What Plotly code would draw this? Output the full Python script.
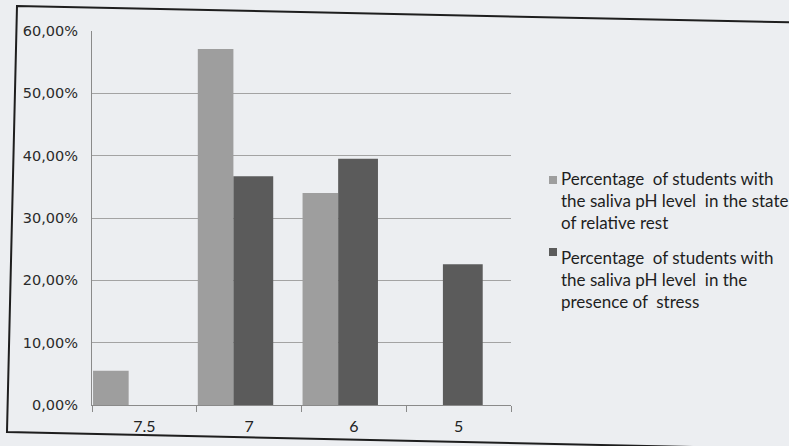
import plotly.graph_objects as go

categories = ["7.5", "7", "6", "5"]
rest_values = [0.055, 0.571, 0.340, None]
stress_values = [None, 0.367, 0.395, 0.226]
y_tick_vals = [0, 0.1, 0.2, 0.3, 0.4, 0.5, 0.6]
y_tick_text = ["0,00%", "10,00%", "20,00%", "30,00%", "40,00%", "50,00%", "60,00%"]
legend_texts = [
    "Percentage  of students with<br>the saliva pH level  in the state<br>of relative rest",
    "Percentage  of students with<br>the saliva pH level  in the<br>presence of  stress",
]
colors = ["#9e9e9e", "#5b5b5b"]

W, H = 789, 446
L, T = 92, 31
R = W - 511
B = H - 405
pw, ph = W - L - R, H - T - B

def px_x(x):
    return (x - L) / pw

def px_y(y):
    return (H - B - y) / ph

fig = go.Figure()
fig.add_trace(go.Bar(x=categories, y=rest_values, name="rest",
                     marker=dict(color=colors[0], line=dict(width=0)),
                     offset=-0.49, width=0.34, showlegend=False))
fig.add_trace(go.Bar(x=categories, y=stress_values, name="stress",
                     marker=dict(color=colors[1], line=dict(width=0)),
                     offset=-0.15, width=0.38, showlegend=False))

# slightly tilted outer frame (scanned page)
corners = [(17, 6), (820, 23), (830, 450), (7, 432)]
path = "M " + " L ".join(f"{px_x(x):.4f},{px_y(y):.4f}" for x, y in corners) + " Z"
shapes = [dict(type="path", xref="paper", yref="paper", path=path,
               line=dict(color="#1e1e1e", width=2), fillcolor="rgba(0,0,0,0)", layer="below")]
annotations = []
legend_tops = [166, 245]
marker_centers = [180, 252]
for txt, col, top, mc in zip(legend_texts, colors, legend_tops, marker_centers):
    shapes.append(dict(type="rect", xref="paper", yref="paper",
                       x0=px_x(549), x1=px_x(557), y0=px_y(mc + 4), y1=px_y(mc - 4),
                       line=dict(width=0), fillcolor=col))
    annotations.append(dict(text=txt, xref="paper", yref="paper", x=px_x(559), y=px_y(top),
                            xanchor="left", yanchor="top", align="left", showarrow=False,
                            font=dict(family="Lato", size=17, color="#1e1e1e")))

fig.update_layout(
    width=W, height=H,
    margin=dict(l=L, r=R, t=T, b=B, autoexpand=False),
    paper_bgcolor="#eceef1", plot_bgcolor="#eceef1",
    barmode="group",
    font=dict(family="DejaVu Sans", color="#2a2a2a"),
    xaxis=dict(type="category", showgrid=False, showline=True, linecolor="#8a8a8a",
               linewidth=1, ticks="outside", tickson="boundaries", ticklen=6,
               tickcolor="#8a8a8a", tickfont=dict(size=16, family="Lato", color="#222"),
               ticklabelstandoff=7, automargin=False),
    yaxis=dict(range=[0, 0.6], tickvals=y_tick_vals, ticktext=y_tick_text,
               showgrid=True, gridcolor="#a3a3a3", gridwidth=1,
               showline=True, linecolor="#8a8a8a", linewidth=1, zeroline=False,
               ticks="", tickfont=dict(size=14.5, family="DejaVu Sans", color="#2a2a2a"),
               ticklabelstandoff=10, automargin=False),
    shapes=shapes,
    annotations=annotations,
    showlegend=False,
)

fig.write_html("out.html", config={"displayModeBar": False},
               post_script="document.body.style.margin='0';document.body.style.overflow='hidden';")
